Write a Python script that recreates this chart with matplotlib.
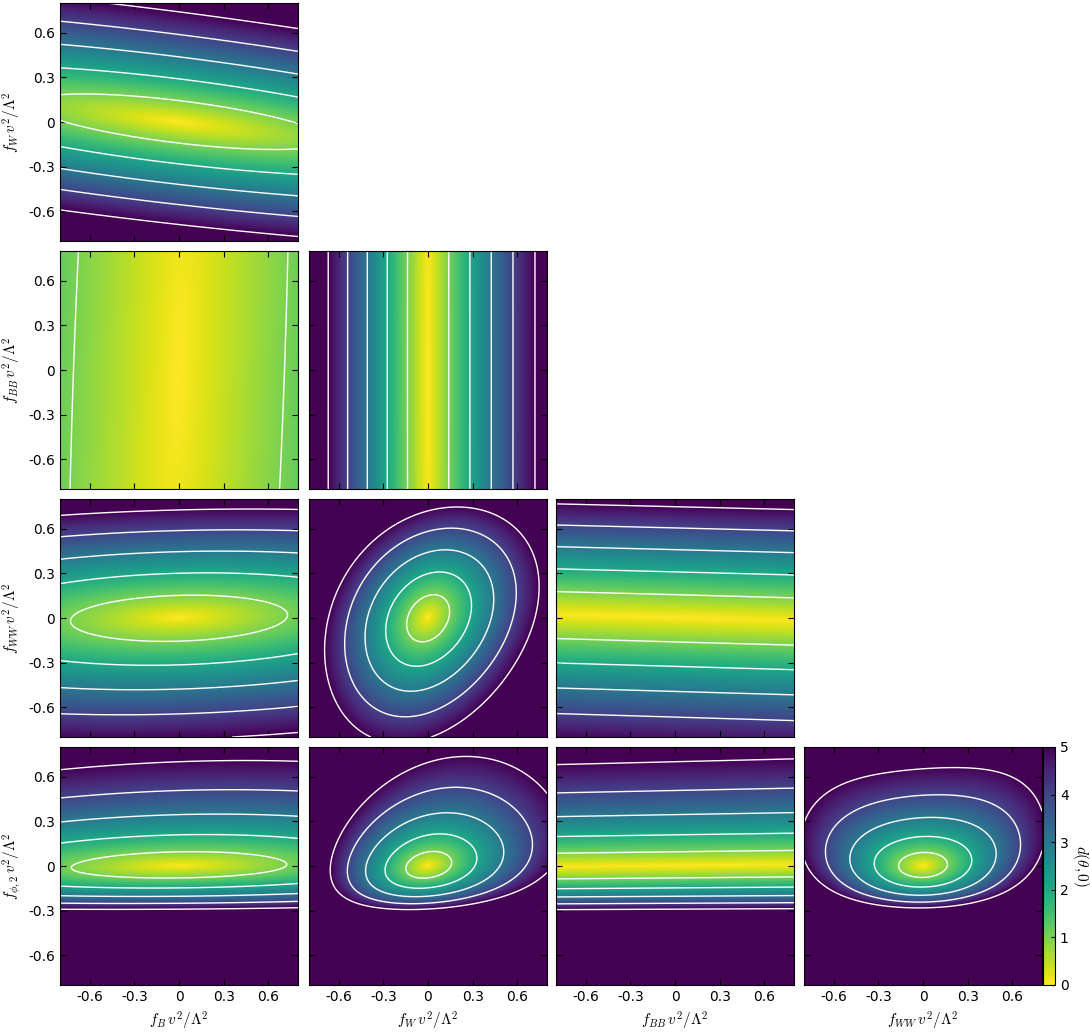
import numpy as np
import matplotlib.pyplot as plt

plt.rcParams['mathtext.fontset'] = 'cm'
plt.rcParams['font.family'] = 'DejaVu Sans'

# operators in corner-plot order
names = [r'f_B', r'f_W', r'f_{BB}', r'f_{WW}', r'f_{\phi,2}']
ticks = [-0.6, -0.3, 0, 0.3, 0.6]
tick_labels = ['-0.6', '-0.3', '0', '0.3', '0.6']
levels = [1, 2, 3, 4, 5]
lim = 0.8

# local metric of each slice: d^2 = (a (X - t U))^2 + (b (U - s X - q X^2))^2
# with X, U the log-warped couplings ln(1 + c f)/c
pair_x = [0, 0, 1, 0, 1, 2, 0, 1, 2, 3]
pair_y = [1, 2, 2, 3, 3, 3, 4, 4, 4, 4]
scale_x = [1.0, 1.41, 7.2, 1.37, 6.94, 0.1, 1.38, 6.5, 0.1, 6.1]
asym_x = [0, 0, 0.1, 0, 0.1, 0, 0, 0.42, 0, 0]
scale_y = [7.0, 0.15, 0.1, 6.5, 6.56, 6.3, 11.45, 11.5, 11.45, 12.0]
asym_y = [0.1, 0, 0, -0.15, -0.15, -0.15, 2.02, 2.02, 2.02, 2.02]
shear_y = [-0.12, 0, 0, 0.028, 0.296, -0.027, 0.015, 0.13, 0.01, 0.03]
shear_x = [0, 0.035, 0, 0, 0, 0, 0, 0, 0, 0]
bend_y = [0, 0, 0, 0, 0, 0, 0, 0.12, 0, 0.25]


def warp(v, c):
    if c == 0:
        return v
    return np.log(np.maximum(1 + c * v, 1e-4)) / c


def distance(k, fx, fy):
    X = warp(fx, asym_x[k])
    U = warp(fy, asym_y[k])
    dx = scale_x[k] * (X - shear_x[k] * U)
    dy = scale_y[k] * (U - shear_y[k] * X - bend_y[k] * X ** 2)
    return np.sqrt(dx ** 2 + dy ** 2)


grid = np.linspace(-lim, lim, 241)
GX, GY = np.meshgrid(grid, grid)

W, H = 1090, 1034
fig = plt.figure(figsize=(W / 100, H / 100), dpi=100)
col_left = [60, 309, 556, 804]
row_top = [3, 251, 499, 747]
size = 238

for k in range(len(pair_x)):
    c = pair_x[k]
    r = pair_y[k] - 1
    ax = fig.add_axes([col_left[c] / W, 1 - (row_top[r] + size) / H, size / W, size / H])
    D = distance(k, GX, GY)
    im = ax.imshow(D, extent=[-lim, lim, -lim, lim], origin='lower', cmap='viridis_r',
                   vmin=0, vmax=5, aspect='auto', interpolation='bilinear')
    ax.contour(grid, grid, D, levels=levels, colors='white', linewidths=1.0)
    ax.set_xlim(-lim, lim)
    ax.set_ylim(-lim, lim)
    ax.set_xticks(ticks)
    ax.set_yticks(ticks)
    ax.tick_params(direction='in', top=True, right=True, length=4, labelsize=10)
    if c == 0:
        ax.set_yticklabels(tick_labels)
        ax.set_ylabel(r'$%s\,v^2/\Lambda^2$' % names[pair_y[k]], fontsize=11)
    else:
        ax.set_yticklabels([])
    if r == 3:
        ax.set_xticklabels(tick_labels)
        ax.set_xlabel(r'$%s\,v^2/\Lambda^2$' % names[c], fontsize=11)
    else:
        ax.set_xticklabels([])

cax = fig.add_axes([1043 / W, 1 - (row_top[3] + size) / H, 12 / W, size / H])
cb = fig.colorbar(im, cax=cax, ticks=range(6))
cb.ax.tick_params(labelsize=10, direction='in', length=3)
cb.set_label(r'$d(\theta,0)$', rotation=270, labelpad=16, fontsize=11)

fig.savefig('out.png', dpi=100)
